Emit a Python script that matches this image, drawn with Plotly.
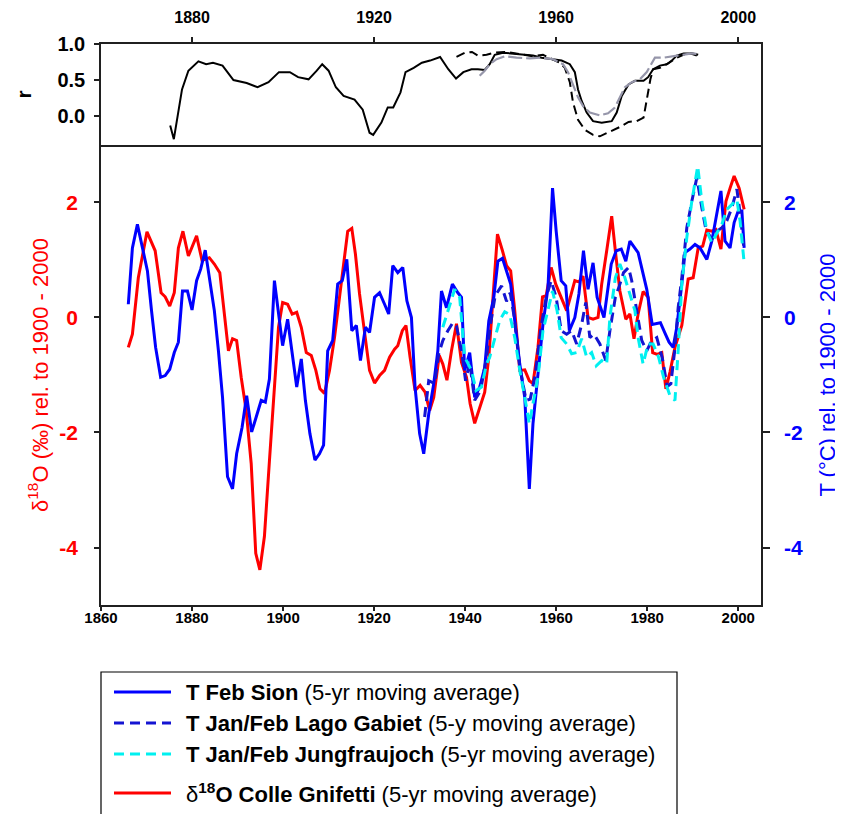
import plotly.graph_objects as go

# ---------------- data ----------------
# Bottom panel: 5-yr moving averages, anomalies rel. to 1900-2000
sion_years = [1866.0, 1866.9, 1868.0, 1869.1, 1870.2, 1871.1, 1872.0, 1873.1, 1874.1, 1875.1,
              1876.1, 1877.0, 1877.9, 1879.0, 1880.0, 1881.0, 1881.9, 1882.9, 1883.8, 1884.9,
              1885.8, 1886.7, 1887.8, 1888.9, 1889.8, 1891.0, 1892.0, 1893.1, 1894.1, 1895.2,
              1896.1, 1897.0, 1898.1, 1899.0, 1899.9, 1901.0, 1902.0, 1903.0, 1904.0, 1904.9,
              1905.9, 1907.0, 1908.0, 1908.9, 1909.8, 1910.9, 1912.0, 1913.0, 1914.0, 1915.1,
              1916.1, 1917.0, 1918.1, 1919.0, 1920.1, 1921.2, 1922.3, 1923.2, 1924.1, 1925.2,
              1926.3, 1927.2, 1928.2, 1929.0, 1930.0, 1930.9, 1932.0, 1933.1, 1934.0, 1934.8,
              1935.9, 1937.2, 1938.4, 1939.2, 1939.9, 1941.0, 1942.1, 1943.2, 1944.3, 1945.2,
              1946.3, 1947.2, 1948.2, 1949.1, 1950.0, 1950.9, 1952.0, 1953.1, 1954.1, 1954.9,
              1956.0, 1957.1, 1958.2, 1959.2, 1960.0, 1961.1, 1962.1, 1962.9, 1964.1, 1965.0,
              1966.0, 1967.0, 1968.1, 1969.0, 1970.5, 1972.1, 1973.2, 1974.3, 1975.3, 1976.2,
              1978.0, 1979.9, 1981.1, 1982.9, 1984.0, 1984.8, 1985.7, 1986.5, 1987.6, 1988.3,
              1989.4, 1990.5, 1991.6, 1993.1, 1994.2, 1995.1, 1996.2, 1997.1, 1998.2, 1999.1,
              2000.0, 2000.8, 2001.3]
sion_temp = [0.23, 1.21, 1.62, 1.21, 0.81, 0.12, -0.52, -1.04, -1.01, -0.90,
             -0.61, -0.43, 0.46, 0.46, 0.13, 0.64, 0.84, 1.17, 0.69, 0.12,
             -0.58, -1.39, -2.77, -2.98, -2.37, -1.91, -1.36, -1.99, -1.73, -1.44,
             -1.47, -1.07, 0.64, 0.06, -0.49, -0.03, -0.58, -1.21, -0.72, -1.44,
             -2.02, -2.48, -2.37, -2.22, -0.58, -0.40, 0.58, 0.64, 1.01, -0.23,
             -0.14, -0.75, -0.17, -0.26, 0.35, 0.43, 0.23, 0.06, 0.90, 0.78,
             0.87, 0.29, 0.0, -1.21, -2.02, -2.37, -1.68, -1.15, -0.58, 0.46,
             0.17, 0.58, 0.43, 0.35, -0.92, -0.61, -1.39, -1.21, -0.87, -0.06,
             0.35, 0.98, 1.03, 0.81, 0.58, -0.06, -0.81, -1.39, -2.98, -1.85,
             -1.04, -0.12, 0.52, 2.25, 1.50, 0.64, 0.55, -0.23, 0.0, 0.41,
             1.16, 0.49, 0.95, 0.35, 0.0, 0.93, 1.16, 1.19, 0.98, 1.33,
             1.13, 0.49, -0.12, -0.09, -0.29, -0.43, -0.52, -0.17, 0.58, 1.13,
             1.19, 1.27, 1.21, 1.01, 1.33, 1.73, 2.20, 1.33, 1.21, 1.65,
             1.85, 1.85, 1.21]

gabiet_years = [1931.1, 1932.0, 1933.3, 1934.2, 1935.1, 1936.2, 1937.3, 1938.1, 1939.2, 1940.1,
                1941.0, 1942.1, 1943.4, 1944.7, 1945.5, 1946.6, 1948.0, 1949.1, 1949.9, 1950.8,
                1952.0, 1953.4, 1954.3, 1955.4, 1956.7, 1957.8, 1958.9, 1960.0, 1961.1, 1962.3,
                1963.4, 1964.5, 1965.6, 1966.5, 1967.4, 1968.3, 1969.6, 1970.9, 1971.8, 1973.0,
                1974.0, 1974.8, 1975.9, 1976.6, 1977.7, 1978.8, 1979.9, 1981.0, 1982.1, 1983.3,
                1984.4, 1985.2, 1986.0, 1986.8, 1987.6, 1988.7, 1989.8, 1990.9, 1992.0, 1992.9,
                1994.2, 1995.3, 1996.4, 1997.5, 1998.6, 1999.7, 2000.4, 2001.3]
gabiet_temp = [-1.73, -1.10, -1.15, -0.63, -0.40, -0.23, -0.09, -0.15, -0.58, -1.10,
               -0.78, -1.44, -1.27, -0.69, -0.15, 0.38, 0.55, 0.28, 0.43, 0.0,
               -0.87, -1.44, -1.42, -1.0, -0.15, 0.35, 0.64, 0.35, -0.23, -0.29,
               -0.23, -0.46, -0.12, 0.26, -0.35, -0.29, -0.46, -0.75, -0.23, 0.35,
               0.58, 0.78, 0.87, 0.64, 0.12, -0.40, -0.58, -0.40, -0.35, -0.70,
               -1.20, -1.15, -0.60, 0.17, 0.69, 1.56, 2.02, 2.43, 1.91, 1.53,
               1.36, 1.50, 1.56, 1.68, 1.91, 2.23, 1.82, 1.16]

jungfrau_years = [1935.1, 1936.2, 1937.7, 1938.8, 1939.9, 1941.4, 1942.4, 1943.6, 1944.7, 1945.4,
                  1946.5, 1947.6, 1948.7, 1949.8, 1950.9, 1952.0, 1953.1, 1954.1, 1954.9, 1956.0,
                  1957.1, 1958.2, 1959.2, 1960.2, 1961.1, 1962.3, 1963.4, 1964.5, 1965.6, 1966.7,
                  1967.8, 1968.8, 1970.0, 1971.1, 1971.8, 1973.0, 1974.0, 1975.1, 1976.2, 1977.3,
                  1978.0, 1979.1, 1980.2, 1981.3, 1982.5, 1983.6, 1985.0, 1986.1, 1986.8, 1987.6,
                  1988.7, 1989.8, 1991.1, 1992.0, 1993.1, 1994.2, 1995.3, 1996.4, 1997.5, 1998.6,
                  1999.7, 2000.4, 2001.3]
jungfrau_temp = [-0.17, 0.12, 0.49, 0.35, -0.69, -0.92, -1.27, -1.21, -0.81, -0.69,
                 -0.35, -0.05, 0.10, 0.05, -0.35, -0.92, -1.39, -1.85, -1.50, -1.04,
                 -0.23, 0.12, 0.46, 0.12, -0.35, -0.46, -0.63, -0.61, -0.37, -0.69,
                 -0.61, -0.84, -0.75, -0.81, 0.0, 0.69, 0.93, 0.69, 0.41, 0.12,
                 -0.35, -0.81, -0.46, -0.46, -0.69, -1.04, -1.36, -1.44, -0.58, 0.58,
                 1.39, 2.02, 2.63, 2.02, 1.50, 1.30, 1.47, 1.62, 1.88, 1.97,
                 2.05, 1.68, 0.95]

d18o_years = [1866.0, 1866.9, 1868.2, 1870.1, 1871.9, 1873.2, 1874.1, 1875.1, 1876.1, 1877.0,
              1878.0, 1879.2, 1881.0, 1882.2, 1883.8, 1884.9, 1886.1, 1887.1, 1888.0, 1888.9,
              1889.8, 1890.8, 1891.9, 1893.0, 1894.0, 1894.9, 1895.9, 1897.0, 1898.1, 1899.0,
              1899.9, 1901.0, 1902.0, 1903.0, 1904.0, 1905.1, 1906.2, 1907.2, 1908.1, 1909.1,
              1910.2, 1911.3, 1912.4, 1913.3, 1914.2, 1915.1, 1915.9, 1916.8, 1917.9, 1919.0,
              1920.1, 1921.2, 1922.3, 1923.4, 1924.5, 1925.2, 1926.2, 1927.0, 1927.9, 1929.0,
              1930.1, 1931.2, 1932.2, 1933.1, 1934.3, 1935.1, 1936.0, 1937.0, 1938.1, 1939.2,
              1940.3, 1941.1, 1942.1, 1943.2, 1944.3, 1945.2, 1946.1, 1947.1, 1948.2, 1949.1,
              1950.0, 1950.9, 1952.0, 1953.1, 1954.1, 1954.9, 1956.0, 1957.0, 1957.8, 1958.9,
              1959.9, 1961.1, 1962.3, 1963.1, 1964.1, 1965.0, 1965.9, 1967.0, 1968.1, 1969.2,
              1970.0, 1971.1, 1972.2, 1973.0, 1974.0, 1975.3, 1976.2, 1977.1, 1978.0, 1979.1,
              1980.2, 1981.2, 1982.2, 1983.2, 1984.1, 1985.0, 1986.1, 1987.6, 1989.0, 1990.1,
              1991.2, 1992.2, 1993.1, 1994.2, 1995.1, 1996.2, 1997.3, 1998.2, 1999.1, 2000.2,
              2001.3]
d18o_vals = [-0.52, -0.29, 0.69, 1.49, 1.16, 0.43, 0.36, 0.20, 0.43, 1.21,
             1.50, 1.07, 1.42, 0.99, 1.04, 0.93, 0.78, 0.12, -0.58, -0.37,
             -0.40, -1.04, -1.62, -2.54, -4.10, -4.39, -3.81, -2.50, -1.21, -0.17,
             0.26, 0.23, 0.06, 0.09, -0.17, -0.61, -0.66, -0.92, -1.24, -1.32,
             -0.92, -0.35, 0.35, 0.93, 1.50, 1.55, 1.10, 0.41, -0.23, -0.92,
             -1.14, -1.01, -0.92, -0.69, -0.55, -0.49, -0.23, -0.14, -0.69, -1.27,
             -1.18, -1.30, -1.62, -1.39, -0.66, -0.81, -1.09, -0.58, -0.11, -0.78,
             -1.04, -1.50, -1.84, -1.56, -1.30, -0.69, 0.35, 1.45, 1.16, 0.90,
             0.81, 0.12, -0.92, -0.91, -1.10, -1.15, -0.52, 0.36, 0.38, 0.87,
             0.58, 0.35, 0.12, 0.35, 0.64, 0.62, 0.72, 0.0, -0.03, 0.0,
             0.58, 1.16, 1.76, 1.16, 0.46, -0.03, 0.06, -0.37, 0.06, 0.45,
             0.35, -0.61, -0.64, -0.61, -1.24, -0.95, -0.52, -0.14, 0.67, 0.69,
             1.21, 1.24, 1.52, 1.50, 1.53, 1.19, 2.02, 2.25, 2.46, 2.25,
             1.88]

# Top panel: running correlation r
r_sion_years = [1875.2, 1876.0, 1877.8, 1879.2, 1881.4, 1883.1, 1884.6, 1886.7, 1889.1, 1892.0,
                1894.4, 1896.8, 1899.1, 1901.5, 1903.3, 1905.6, 1907.4, 1908.6, 1910.0, 1911.6,
                1913.3, 1915.7, 1917.5, 1919.0, 1919.8, 1921.6, 1923.0, 1924.2, 1925.8, 1926.9,
                1928.7, 1930.5, 1932.3, 1934.5, 1936.3, 1938.0, 1939.6, 1941.4, 1942.8, 1944.3,
                1945.4, 1946.5, 1948.3, 1950.5, 1952.7, 1954.9, 1956.8, 1959.0, 1961.2, 1963.0,
                1964.1, 1964.8, 1965.6, 1966.7, 1968.1, 1970.0, 1972.2, 1973.3, 1974.4, 1975.9,
                1977.3, 1979.2, 1980.2, 1981.3, 1982.8, 1984.3, 1985.4, 1986.5, 1988.0, 1989.4,
                1990.9]
r_sion = [-0.13, -0.32, 0.37, 0.63, 0.76, 0.72, 0.74, 0.70, 0.50, 0.46,
          0.40, 0.47, 0.61, 0.61, 0.54, 0.51, 0.63, 0.72, 0.63, 0.40,
          0.28, 0.23, 0.09, -0.23, -0.26, -0.09, 0.12, 0.12, 0.33, 0.61,
          0.67, 0.74, 0.77, 0.82, 0.65, 0.52, 0.61, 0.65, 0.65, 0.64,
          0.72, 0.85, 0.88, 0.87, 0.85, 0.84, 0.81, 0.79, 0.77, 0.72,
          0.61, 0.37, 0.21, 0.05, -0.07, -0.09, -0.07, 0.05, 0.28, 0.44,
          0.49, 0.49, 0.54, 0.65, 0.70, 0.72, 0.77, 0.84, 0.87, 0.87,
          0.84]

r_gabiet_years = [1938.1, 1940.0, 1941.5, 1942.8, 1944.7, 1946.5, 1949.1, 1952.0, 1954.9, 1957.1,
                  1959.3, 1960.8, 1961.9, 1963.0, 1963.7, 1964.8, 1966.3, 1968.1, 1969.6, 1971.8,
                  1974.0, 1975.9, 1977.7, 1979.2, 1979.9, 1980.7, 1981.3, 1982.8, 1984.6, 1986.5,
                  1988.3, 1989.8, 1991.2]
r_gabiet = [0.82, 0.88, 0.89, 0.84, 0.85, 0.88, 0.89, 0.86, 0.83, 0.85,
            0.79, 0.74, 0.67, 0.47, 0.19, -0.05, -0.19, -0.26, -0.28, -0.22,
            -0.15, -0.08, -0.07, -0.02, 0.23, 0.51, 0.65, 0.67, 0.73, 0.81,
            0.86, 0.87, 0.85]

r_jungfrau_years = [1943.2, 1944.3, 1945.4, 1946.9, 1948.7, 1951.3, 1954.2, 1956.4, 1959.3, 1961.5,
                    1962.6, 1963.7, 1964.8, 1965.9, 1967.4, 1969.6, 1971.4, 1972.9, 1974.0, 1975.1,
                    1976.6, 1978.4, 1979.9, 1981.0, 1981.7, 1983.6, 1985.7, 1988.0, 1989.8, 1991.2]
r_jungfrau = [0.56, 0.63, 0.72, 0.79, 0.83, 0.81, 0.80, 0.81, 0.79, 0.72,
              0.61, 0.42, 0.26, 0.14, 0.05, 0.01, 0.04, 0.12, 0.26, 0.40,
              0.47, 0.51, 0.61, 0.74, 0.81, 0.81, 0.83, 0.86, 0.87, 0.86]

x_ticks_bottom = [1860, 1880, 1900, 1920, 1940, 1960, 1980, 2000]
x_ticks_top = [1880, 1920, 1960, 2000]
y_ticks_main = [-4, -2, 0, 2]
y_tick_labels_main = ["-4", "-2", "0", "2"]
r_ticks = [0.0, 0.5, 1.0]
r_tick_labels = ["0.0", "0.5", "1.0"]

legend_labels = [
    "<b>T Feb Sion</b> (5-yr moving average)",
    "<b>T Jan/Feb Lago Gabiet</b> (5-y moving average)",
    "<b>T Jan/Feb Jungfraujoch</b> (5-yr moving average)",
    "δ<sup><b>18</b></sup><b>O Colle Gnifetti</b> (5-yr moving average)",
]

for a, b in [(sion_years, sion_temp), (gabiet_years, gabiet_temp), (jungfrau_years, jungfrau_temp),
             (d18o_years, d18o_vals), (r_sion_years, r_sion), (r_gabiet_years, r_gabiet),
             (r_jungfrau_years, r_jungfrau)]:
    assert len(a) == len(b), (len(a), len(b))

# ---------------- figure ----------------
FONT = "Liberation Sans, Arial, sans-serif"
RED = "#ff0000"
BLUE = "#0000ff"
DBLUE = "#1414d2"
CYAN = "#00f0f0"
GREY = "#9696aa"
AX = "#202020"

OFF = 8                      # default page margin of the html body
W, H = 843 - OFF, 814 - OFF
ML, MR, MT, MB = 101 - OFF, 82, 44 - OFF, 209
PW, PH = W - ML - MR, H - MT - MB


def px_x(px):                # page pixel -> paper fraction
    return (px - OFF - ML) / PW


def px_y(py):
    return (H - MB - (py - OFF)) / PH


styles = [
    dict(color=BLUE, width=3),
    dict(color=DBLUE, width=3, dash="10px,6px"),
    dict(color=CYAN, width=3, dash="10px,6px"),
    dict(color=RED, width=3),
]

fig = go.Figure()

# main panel
fig.add_trace(go.Scatter(x=sion_years, y=sion_temp, mode="lines", yaxis="y3",
                         line=styles[0], name="T Feb Sion", showlegend=False))
fig.add_trace(go.Scatter(x=gabiet_years, y=gabiet_temp, mode="lines", yaxis="y3",
                         line=styles[1], name="T Jan/Feb Lago Gabiet", showlegend=False))
fig.add_trace(go.Scatter(x=jungfrau_years, y=jungfrau_temp, mode="lines", yaxis="y3",
                         line=styles[2], name="T Jan/Feb Jungfraujoch", showlegend=False))
fig.add_trace(go.Scatter(x=d18o_years, y=d18o_vals, mode="lines", yaxis="y",
                         line=styles[3], name="δ18O Colle Gnifetti", showlegend=False))

# top panel
fig.add_trace(go.Scatter(x=r_sion_years, y=r_sion, mode="lines", xaxis="x2", yaxis="y2",
                         line=dict(color="black", width=2), showlegend=False, name="r Sion"))
fig.add_trace(go.Scatter(x=r_gabiet_years, y=r_gabiet, mode="lines", xaxis="x2", yaxis="y2",
                         line=dict(color="black", width=2, dash="9px,5px"), showlegend=False,
                         name="r Lago Gabiet"))
fig.add_trace(go.Scatter(x=r_jungfrau_years, y=r_jungfrau, mode="lines", xaxis="x2", yaxis="y2",
                         line=dict(color=GREY, width=2.2, dash="14px,4px"), showlegend=False,
                         name="r Jungfraujoch"))

SPLIT = 0.82
common_axis = dict(showgrid=False, zeroline=False, showline=True, linecolor=AX, linewidth=1.5,
                   ticks="outside", tickcolor=AX, tickwidth=1.5, automargin=False)

# hand-made legend box (samples 57 px long, as in the original)
shapes = [dict(type="rect", xref="paper", yref="paper",
               x0=px_x(101), x1=px_x(677), y0=px_y(672), y1=px_y(830),
               line=dict(color="black", width=1.2), fillcolor="white")]
annotations = []
row_y = [692, 723, 754, 793]
for lab, st, ry in zip(legend_labels, styles, row_y):
    shapes.append(dict(type="line", xref="paper", yref="paper",
                       x0=px_x(114), x1=px_x(171), y0=px_y(ry), y1=px_y(ry),
                       line=dict(color=st["color"], width=3, dash=st.get("dash", "solid"))))
    annotations.append(dict(text=lab, xref="paper", yref="paper", x=px_x(184), y=px_y(ry),
                            xanchor="left", yanchor="middle", showarrow=False,
                            font=dict(family=FONT, size=22, color="black")))

fig.update_layout(
    template="none",
    width=W, height=H,
    margin=dict(l=ML, r=MR, t=MT, b=MB, autoexpand=False),
    plot_bgcolor="white", paper_bgcolor="white",
    font=dict(family=FONT, color="black"),
    showlegend=False,
    xaxis=dict(domain=[0, 1], range=[1860, 2005], anchor="y",
               tickmode="array", tickvals=x_ticks_bottom, ticklen=4, ticklabelstandoff=-6,
               tickfont=dict(family=FONT, size=15, color="black", weight="bold"),
               **common_axis),
    yaxis=dict(domain=[0, SPLIT], range=[-5, 3], anchor="x", side="left",
               tickmode="array", tickvals=y_ticks_main, ticktext=y_tick_labels_main,
               ticklen=5, ticklabelstandoff=12,
               tickfont=dict(family=FONT, size=21, color=RED, weight="bold"),
               title=dict(text="δ<sup>18</sup>O (‰) rel. to 1900 - 2000",
                          font=dict(family=FONT, size=22, color=RED), standoff=5),
               **common_axis),
    yaxis3=dict(range=[-5, 3], overlaying="y", anchor="x", side="right",
                tickmode="array", tickvals=y_ticks_main, ticktext=y_tick_labels_main,
                ticklen=7, ticklabelstandoff=10,
                tickfont=dict(family=FONT, size=21, color=BLUE, weight="bold"),
                title=dict(text="T (°C) rel. to 1900 - 2000",
                           font=dict(family=FONT, size=22, color=BLUE), standoff=18),
                **common_axis),
    xaxis2=dict(domain=[0, 1], range=[1860, 2005], anchor="y2", side="top", mirror=True,
                tickmode="array", tickvals=x_ticks_top, ticklen=5, ticklabelstandoff=8,
                tickfont=dict(family=FONT, size=16, color="black", weight="bold"),
                **common_axis),
    yaxis2=dict(domain=[SPLIT, 1], range=[-0.4, 1.0], anchor="x2", side="left", mirror=True,
                tickmode="array", tickvals=r_ticks, ticktext=r_tick_labels, ticklen=5,
                ticklabelstandoff=5,
                tickfont=dict(family=FONT, size=20, color="black", weight="bold"),
                title=dict(text="<b>r</b>", font=dict(family=FONT, size=21, color="black"),
                           standoff=20),
                **common_axis),
    shapes=shapes,
    annotations=annotations,
)

fig.write_html("out.html")
